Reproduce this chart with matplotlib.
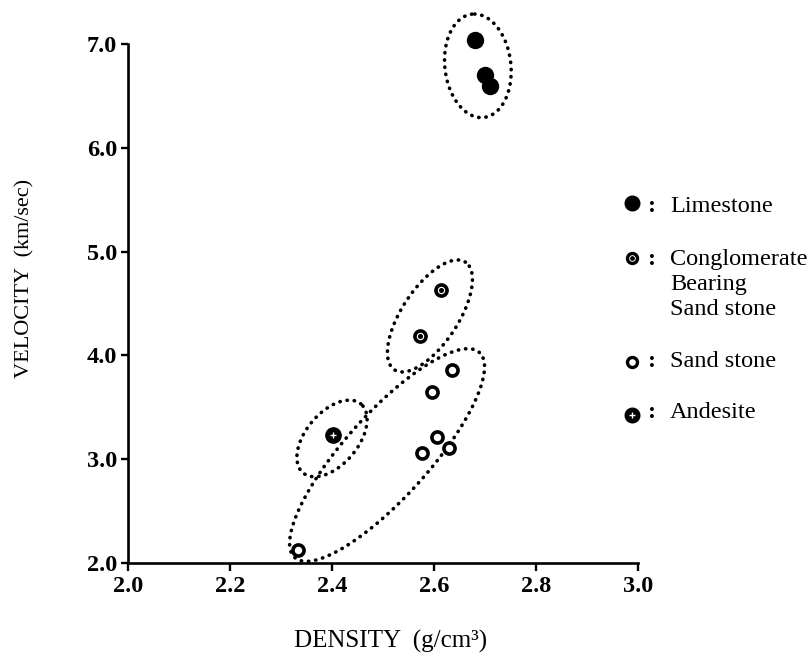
import numpy as np
import matplotlib
matplotlib.use('Agg')
import matplotlib.pyplot as plt
from matplotlib.lines import Line2D

# density (g/cm3) and velocity (km/sec)
limestone_density = [2.68, 2.70, 2.71]
limestone_velocity = [7.04, 6.70, 6.60]

congl_density = [2.614, 2.573]
congl_velocity = [4.63, 4.19]

sand_density = [2.635, 2.596, 2.606, 2.629, 2.576, 2.333]
sand_velocity = [3.86, 3.65, 3.21, 3.11, 3.06, 2.13]

andesite_density = [2.402]
andesite_velocity = [3.23]

x_ticks = [2.0, 2.2, 2.4, 2.6, 2.8, 3.0]
y_ticks = [2.0, 3.0, 4.0, 5.0, 6.0, 7.0]

SERIF = 'Liberation Serif'
W, H = 812, 660

fig = plt.figure(figsize=(W / 100, H / 100), dpi=100)
ax = fig.add_axes([128 / W, 97 / H, 510 / W, 519 / H])
ax.set_xlim(2.0, 3.0)
ax.set_ylim(2.0, 7.0)

for s in ['top', 'right']:
    ax.spines[s].set_visible(False)
for s in ['left', 'bottom']:
    ax.spines[s].set_linewidth(1.9)

ax.set_xticks(x_ticks)
ax.set_yticks(y_ticks)
ax.set_xticklabels(['%.1f' % v for v in x_ticks], fontfamily=SERIF, fontweight='bold', fontsize=17.5)
ax.set_yticklabels(['%.1f' % v for v in y_ticks], fontfamily=SERIF, fontweight='bold', fontsize=17.5)
ax.tick_params(axis='x', direction='out', length=6, width=1.7, pad=3)
ax.tick_params(axis='y', direction='out', length=5, width=1.7, pad=3)

# points
ax.plot(limestone_density, limestone_velocity, 'o', color='black', ms=11.5, clip_on=False, zorder=5)
ax.plot(sand_density, sand_velocity, 'o', mfc='white', mec='black', ms=8, mew=2.6, zorder=5)
ax.plot(congl_density, congl_velocity, 'o', mfc='white', mec='black', ms=8, mew=2.6, zorder=5)
ax.plot(congl_density, congl_velocity, 'o', color='black', ms=2.6, zorder=6)
ax.plot(andesite_density, andesite_velocity, 'o', color='black', ms=11, zorder=5)
ax.plot(andesite_density, andesite_velocity, '+', color='white', ms=4.5, mew=1.0, zorder=6)


def dotted_ellipse(cx, cy, a_px, b_px, ang):
    # ellipse drawn in screen pixels around a data centre
    t = np.linspace(0, 2 * np.pi, 300)
    px, py = ax.transData.transform((cx, cy))
    th = np.radians(ang)
    ex = a_px * np.cos(t)
    ey = b_px * np.sin(t)
    xs = px + ex * np.cos(th) - ey * np.sin(th)
    ys = py + ex * np.sin(th) + ey * np.cos(th)
    pts = ax.transData.inverted().transform(np.column_stack([xs, ys]))
    ax.plot(pts[:, 0], pts[:, 1], color='black', lw=2.6,
            linestyle=(0, (0.1, 1.9)), dash_capstyle='round', clip_on=False, zorder=4)


dotted_ellipse(2.686, 6.79, 52, 33, 96.6)
dotted_ellipse(2.592, 4.38, 64.5, 28, 56.6)
dotted_ellipse(2.400, 3.20, 45, 26, 50)
dotted_ellipse(2.508, 3.04, 138, 42, 48)

# axis labels
fig.text(391 / W, 1 - 648 / H, 'DENSITY  (g/cm³)', fontfamily=SERIF, fontsize=18,
         ha='center', va='baseline')
fig.text(25 / W, 1 - 278 / H, 'VELOCITY  (km/sec)', fontfamily=SERIF, fontsize=16,
         ha='center', va='center', rotation=90)

# legend drawn by hand
mx, cx_, tx = 632 / W, 652 / W, 670 / W


def fy(p):
    return 1 - p / H


fig.add_artist(Line2D([mx], [fy(203)], marker='o', color='black', ms=10.5, transform=fig.transFigure))
fig.add_artist(Line2D([mx], [fy(258)], marker='o', mfc='white', mec='black', ms=7.2, mew=2.4,
                      transform=fig.transFigure))
fig.add_artist(Line2D([mx], [fy(258)], marker='o', color='black', ms=2.4, transform=fig.transFigure))
fig.add_artist(Line2D([mx], [fy(362)], marker='o', mfc='white', mec='black', ms=7.2, mew=2.4,
                      transform=fig.transFigure))
fig.add_artist(Line2D([mx], [fy(415)], marker='o', color='black', ms=10.5, transform=fig.transFigure))
fig.add_artist(Line2D([mx], [fy(415)], marker='+', color='white', ms=4.5, mew=1.0,
                      transform=fig.transFigure))

legend_rows = [(212, 'Limestone'), (265, 'Conglomerate'), (290, 'Bearing'),
               (315, 'Sand stone'), (367, 'Sand stone'), (418, 'Andesite')]
for base, label in legend_rows:
    fig.text(tx, fy(base), label, fontfamily=SERIF, fontsize=17.5, ha='left', va='baseline')
for base in [212, 265, 367, 418]:
    fig.text(cx_, fy(base), ':', fontfamily=SERIF, fontsize=17.5, fontweight='bold',
             ha='center', va='baseline')

fig.savefig('out.png', dpi=100)
